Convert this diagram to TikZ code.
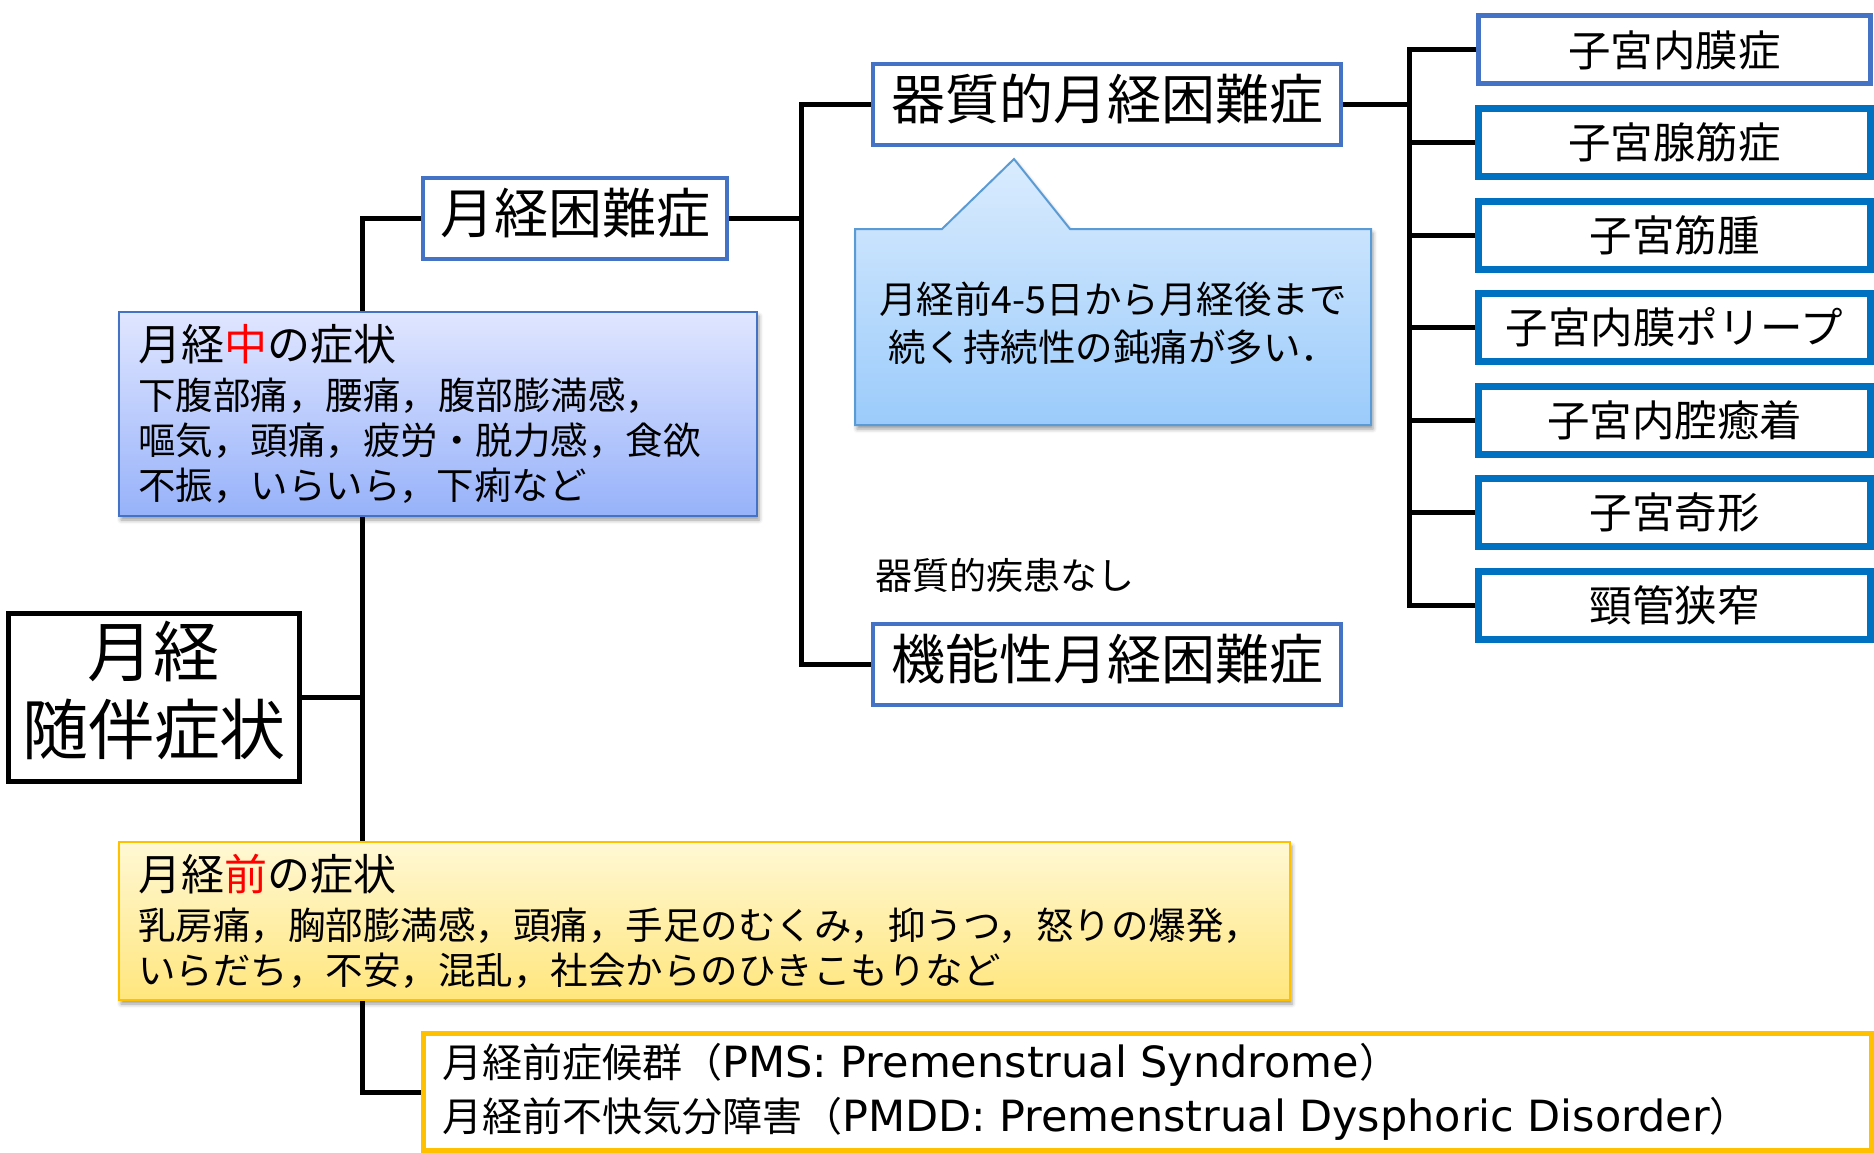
\documentclass[tikz,border=0pt]{standalone}
\usepackage{fontspec}
\setmainfont{Noto Sans CJK JP}
\newfontfamily\latinfont{DejaVu Sans}
\usetikzlibrary{positioning, calc, backgrounds, shadows.blur}
\definecolor{boxblue}{HTML}{4472C4}
\definecolor{deepblue}{HTML}{0070C0}
\definecolor{notebd}{HTML}{5B9BD5}
\definecolor{gold}{HTML}{FFC000}

\begin{document}
\begin{tikzpicture}[x=1pt, y=-1pt,
    link/.style={line width=5pt, black},
    cat/.style={draw=boxblue, line width=4pt, fill=white, inner sep=0pt, minimum width=468pt, minimum height=81pt, text height=47.5pt, text depth=17pt, font=\fontsize{54}{60}\selectfont},
    sub/.style={draw=deepblue, line width=7pt, fill=white, inner sep=0pt, minimum width=392pt, minimum height=68pt, font=\fontsize{42.5}{50}\selectfont},
    sym/.style={line width=2pt, inner sep=0pt, align=left, font=\fontsize{37.5}{45}\selectfont, blur shadow={shadow xshift=2pt, shadow yshift=-4pt, shadow blur radius=4pt}}]
    \useasboundingbox (0,0) rectangle (1874,1153);
    \node[draw, line width=5pt, fill=white, minimum width=291pt, minimum height=168pt, inner sep=0pt, align=center, text depth=20pt, font=\fontsize{66}{78}\selectfont] (root) at (154,697.5) {月経\\随伴症状};
    \node[cat, minimum width=304pt] (mkd) at (575,218.5) {月経困難症};
    \node[cat] (org) at (1107,104.5) {器質的月経困難症};
    \node[cat] (func) at (1107,664.5) {機能性月経困難症};
    \node[anchor=west, font=\fontsize{37}{44}\selectfont] (nolabel) at (872,575) {器質的疾患なし};
    \foreach \c/\w/\t [count=\i] in {boxblue/5/子宮内膜症, deepblue/7/子宮腺筋症, deepblue/7/子宮筋腫, deepblue/7/子宮内膜ポリープ, deepblue/7/子宮内腔癒着, deepblue/7/子宮奇形, deepblue/7/頸管狭窄}
        \node[sub, draw=\c, line width=\w pt] (u\i) at (1674.5,{50+92.5*(\i-1)}) {\t};
    \node[sym, draw=boxblue, top color={rgb,255:red,224;green,230;blue,255}, bottom color={rgb,255:red,151;green,178;blue,250}, minimum width=638pt, minimum height=204pt, text width=600pt] (during) at (438,414)
        {{\fontsize{43}{45}\selectfont 月経{\color{red}中}の症状}\\[4pt]
         下腹部痛，腰痛，腹部膨満感，\\
         嘔気，頭痛，疲労・脱力感，食欲\\
         不振，いらいら，下痢など};
    \node[sym, draw=gold, top color={rgb,255:red,255;green,248;blue,212}, bottom color={rgb,255:red,255;green,230;blue,125}, minimum width=1171pt, minimum height=158pt, text width=1133pt] (before) at (704.5,921)
        {{\fontsize{43}{45}\selectfont 月経{\color{red}前}の症状}\\[4pt]
         乳房痛，胸部膨満感，頭痛，手足のむくみ，抑うつ，怒りの爆発，\\
         いらだち，不安，混乱，社会からのひきこもりなど};
    \node[draw=gold, line width=5pt, fill=white, inner sep=0pt, minimum width=1448pt, minimum height=117pt, text width=1410pt, align=left, font=\fontsize{40}{54}\selectfont] (pms) at (1147.5,1092)
        {月経前症候群（{\latinfont\fontsize{43}{54}\selectfont PMS: Premenstrual Syndrome}）\\
         月経前不快気分障害（{\latinfont\fontsize{43}{54}\selectfont PMDD: Premenstrual Dysphoric Disorder}）};
    \path[draw=notebd, line width=2pt, top color={rgb,255:red,218;green,236;blue,254}, bottom color={rgb,255:red,155;green,203;blue,251}, blur shadow={shadow xshift=2pt, shadow yshift=-4pt, shadow blur radius=4pt}]
        (855,229) -- (942,229) -- (1014,159) -- (1070,229) -- (1371,229) -- (1371,425) -- (855,425) -- cycle;
    \node[align=center, font=\fontsize{37.5}{48}\selectfont] (note) at (1113,323) {月経前4-5日から月経後まで\\続く持続性の鈍痛が多い．};
    \coordinate (tr) at (362,697.5);
    \coordinate (br) at (801,218.5);
    \coordinate (br2) at (1409,104.5);
    \begin{scope}[on background layer]
        \draw[link] (root.east) -- (tr);
        \draw[link] (mkd.west) -| (tr) |- (pms.west);
        \draw[link] (mkd.east) -- (br);
        \draw[link] (org.west) -| (br) |- (func.west);
        \draw[link] (org.east) -- (br2);
        \draw[link] (u1.west) -| (br2) |- (u7.west);
        \foreach \i in {2,...,6}
            \draw[link] (u\i.west) -- (u\i.west -| br2);
    \end{scope}
\end{tikzpicture}
\end{document}
